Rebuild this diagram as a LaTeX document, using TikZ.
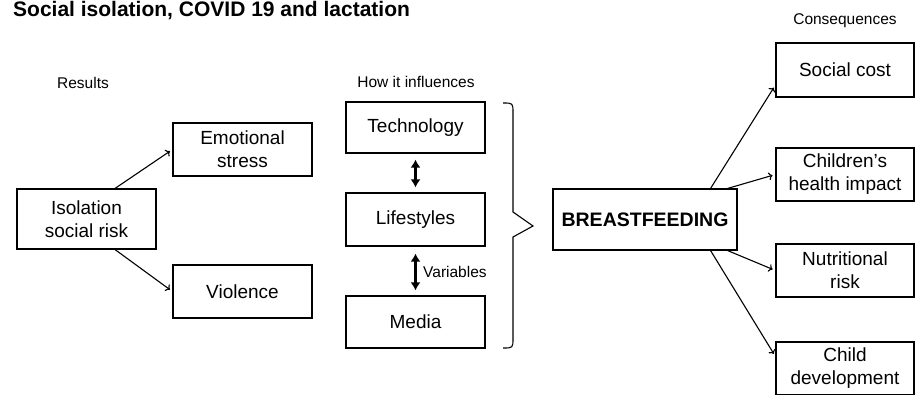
\documentclass[tikz,border=0pt]{standalone}
\usepackage{fontspec}
\setmainfont{Liberation Sans}
\usepackage{tikz}
\usetikzlibrary{arrows,arrows.meta,positioning,calc}
\tikzstyle{box} = [draw, line width=1.1pt, minimum width=139pt, minimum height=53pt, align=center, inner sep=2pt, font=\fontsize{19}{23}\selectfont]
\tikzstyle{headtext} = [inner sep=0pt, anchor=base, font=\fontsize{15.5}{18}\selectfont]
\tikzstyle{line} = [draw, -{To[length=4pt,width=8pt]}, line width=1.1pt, shorten >=3pt]
\tikzstyle{dline} = [draw, {Latex[length=8pt,width=10pt]}-{Latex[length=8pt,width=10pt]}, line width=2.6pt]

\begin{document}
\begin{tikzpicture}[x=1pt,y=-1pt]
		\useasboundingbox (0,0) rectangle (917,395); % page frame
		\node (title) [anchor=base west, inner sep=0pt, font=\bfseries\fontsize{21}{25}\selectfont] at (13,16.5) {Social isolation, COVID 19 and lactation};
		\node (res)  [headtext] at (83,89)  {Results};
		\node (how)  [headtext] at (416,88) {How it influences};
		\node (cons) [headtext] at (845,25) {Consequences};
		\node (var)  [headtext, anchor=base west] at (423,277) {Variables};
		
		\node (iso)   [box, minimum height=60pt] at (86.5,219)   {Isolation\\social risk}; % cause
		\node (emo)   [box] at (242.5,149.5) {Emotional\\stress};
		\node (vio)   [box] at (242.5,291.5) {Violence};
		\node (tech)  [box, minimum height=51pt] at (415.5,127.5) {Technology};
		\node (life)  [box] at (415.5,219.5) {Lifestyles};
		\node (media) [box, minimum height=52pt] at (415.5,322)   {Media};
		\node (bf)    [box, minimum width=184pt, minimum height=61pt, font=\bfseries\fontsize{19.5}{23}\selectfont] at (645,219.5) {BREASTFEEDING};
		\node (soc)   [box, minimum width=138pt, minimum height=54pt] at (845,70) {Social cost};
		\node (chi)   [box, minimum width=138pt] at (845,174.5) {Children's\\health impact};
		\node (nut)   [box, minimum width=138pt] at (845,270.5) {Nutritional\\risk};
		\node (dev)   [box, minimum width=138pt] at (845,368.5) {Child\\development};
		
		\draw[line] ([xshift=28.5pt]iso.north) -- (emo.west); % results
		\draw[line] ([xshift=28.5pt]iso.south) -- (vio.west);
		\draw[dline, shorten <=6pt, shorten >=5pt] (tech.south) -- (life.north); % influences
		\draw[dline, shorten <=7pt, shorten >=5pt] (life.south) -- (media.north);
		\draw[line width=1.1pt] (503,103) .. controls (513,103) .. (513,113) -- (513,212) -- (533,226) -- (513,237) -- (513,338) .. controls (513,348) .. (503,348); % brace
		\draw[line] ([xshift=-27pt]bf.north east) -- ([yshift=-15pt]soc.west); % consequences
		\draw[line] ([xshift=-10pt]bf.north east) -- (chi.west);
		\draw[line] ([xshift=-10pt]bf.south east) -- (nut.west);
		\draw[line] ([xshift=-27pt]bf.south east) -- ([yshift=12pt]dev.west);
\end{tikzpicture}
\end{document}
